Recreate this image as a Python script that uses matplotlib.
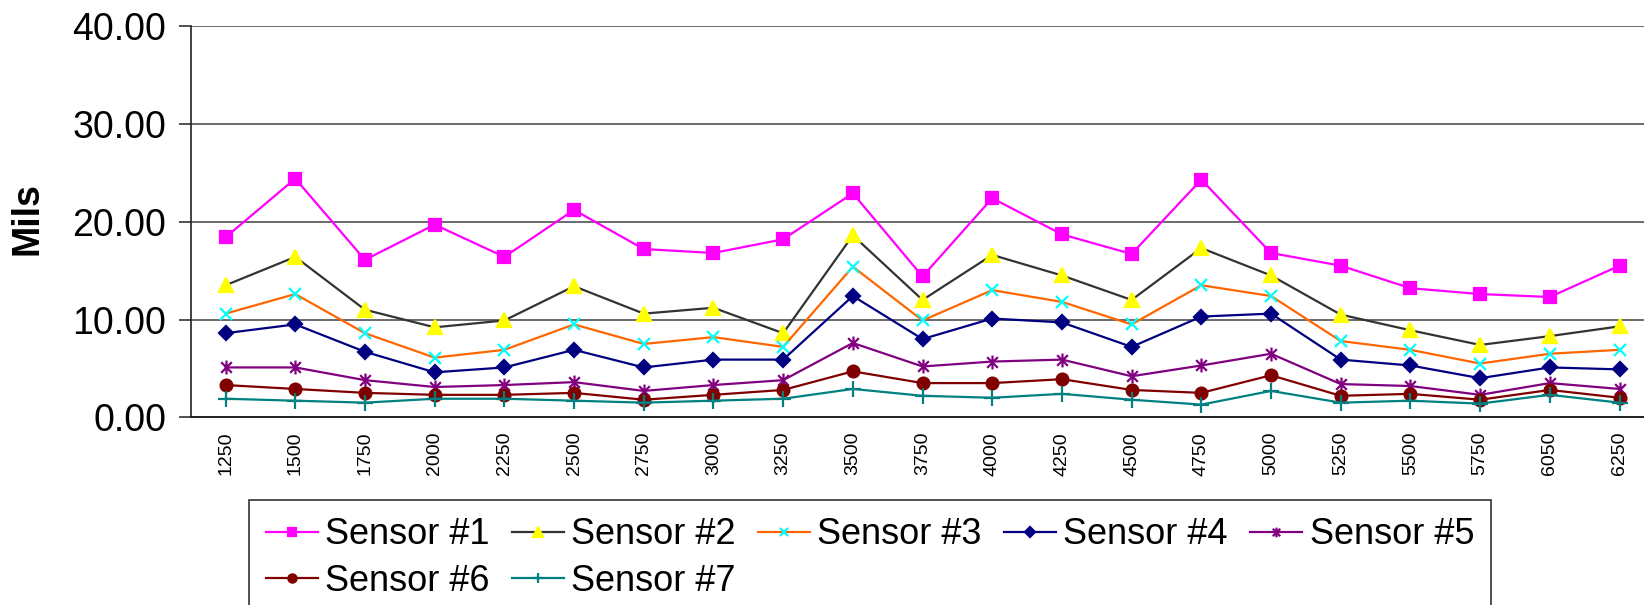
import matplotlib

matplotlib.use("Agg")
import matplotlib.pyplot as plt
import numpy as np
from matplotlib.path import Path

# ----------------------------- Data ------------------------------------------

SPEEDS = ["1250", "1500", "1750", "2000", "2250", "2500", "2750", "3000", "3250", "3500", "3750",
          "4000", "4250", "4500", "4750", "5000", "5250", "5500", "5750", "6050", "6250"]

SENSOR_1 = [18.4, 24.4, 16.1, 19.7, 16.4, 21.2, 17.2, 16.8, 18.2, 22.9, 14.4,
            22.4, 18.7, 16.7, 24.3, 16.8, 15.5, 13.2, 12.6, 12.3, 15.5]
SENSOR_2 = [13.5, 16.4, 11.0, 9.2, 9.9, 13.4, 10.6, 11.2, 8.6, 18.6, 12.0,
            16.6, 14.5, 12.0, 17.3, 14.5, 10.5, 8.9, 7.4, 8.3, 9.3]
SENSOR_3 = [10.6, 12.6, 8.6, 6.1, 6.9, 9.5, 7.5, 8.2, 7.2, 15.4, 9.9,
            13.0, 11.8, 9.5, 13.5, 12.4, 7.8, 6.9, 5.5, 6.5, 6.9]
SENSOR_4 = [8.6, 9.5, 6.7, 4.6, 5.1, 6.9, 5.1, 5.9, 5.9, 12.4, 8.0,
            10.1, 9.7, 7.2, 10.3, 10.6, 5.9, 5.3, 4.0, 5.1, 4.9]
SENSOR_5 = [5.1, 5.1, 3.8, 3.1, 3.3, 3.6, 2.7, 3.3, 3.8, 7.6, 5.2,
            5.7, 5.9, 4.2, 5.3, 6.5, 3.4, 3.2, 2.3, 3.5, 2.9]
SENSOR_6 = [3.3, 2.9, 2.5, 2.3, 2.3, 2.5, 1.8, 2.3, 2.8, 4.7, 3.5,
            3.5, 3.9, 2.8, 2.5, 4.3, 2.2, 2.4, 1.8, 2.8, 2.0]
SENSOR_7 = [1.9, 1.7, 1.5, 1.9, 1.9, 1.7, 1.5, 1.7, 1.9, 2.9, 2.2,
            2.0, 2.4, 1.8, 1.3, 2.7, 1.5, 1.7, 1.4, 2.3, 1.5]

LABELS = ["Sensor #1", "Sensor #2", "Sensor #3", "Sensor #4", "Sensor #5", "Sensor #6", "Sensor #7"]
Y_TICKS = [0, 10, 20, 30, 40]

# ----------------------------- Styling ---------------------------------------

FONT = ["Liberation Sans", "DejaVu Sans"]
LEGEND_COLS = 5

# Excel style asterisk: an "x" with a vertical bar through it
ASTERISK = Path(
    [(-1, -1), (1, 1), (-1, 1), (1, -1), (0, -1.3), (0, 1.3)],
    [Path.MOVETO, Path.LINETO, Path.MOVETO, Path.LINETO, Path.MOVETO, Path.LINETO],
)

# (line colour, marker, marker face, marker edge, marker size)
STYLES = [
    ("#FF00FF", "s", "#FF00FF", "#FF00FF", 9),
    ("#333333", "^", "#FFFF00", "#FFFF00", 10),
    ("#FF6600", "x", "none", "#00FFFF", 9),
    ("#000080", "D", "#000080", "#000080", 7.5),
    ("#800080", ASTERISK, "none", "#800080", 10),
    ("#800000", "o", "#800000", "#800000", 8.5),
    ("#008080", "+", "none", "#008080", 11),
]


def row_major(items, ncol):
    # legend fills column by column; reorder so entries read across the rows
    nrow = -(-len(items) // ncol)
    rows = [items[r * ncol:(r + 1) * ncol] for r in range(nrow)]
    out = []
    for c in range(ncol):
        for row in rows:
            if c < len(row):
                out.append(row[c])
    return out


def plot_sensors(ax, series):
    x = np.arange(len(SPEEDS))
    for values, label, (color, marker, face, edge, size) in zip(series, LABELS, STYLES):
        ax.plot(x, values, color=color, linewidth=1.6, marker=marker, markersize=size,
                markerfacecolor=face, markeredgecolor=edge, markeredgewidth=1.6, label=label)

    ax.set_xlim(-0.5, len(SPEEDS) - 0.5)
    ax.set_ylim(0, 40)
    ax.set_yticks(Y_TICKS)
    ax.set_yticklabels([f"{v:.2f}" for v in Y_TICKS], fontsize=27, family=FONT)
    ax.set_xticks(x)
    ax.set_xticklabels(SPEEDS, rotation=90, fontsize=14, family=FONT)

    ax.tick_params(axis="y", length=8.5, width=1.2, direction="out", pad=9, color="#333333")
    ax.tick_params(axis="x", length=0, pad=10.5)

    ax.grid(axis="y", color="#6a6a6a", linewidth=1.4)
    ax.set_axisbelow(True)
    for side in ("top", "right"):
        ax.spines[side].set_visible(False)
    ax.spines["left"].set_color("#222222")
    ax.spines["left"].set_linewidth(1.2)
    ax.spines["bottom"].set_color("#222222")
    ax.spines["bottom"].set_linewidth(1.4)


def main():
    fig = plt.figure(figsize=(16.44, 6.05), dpi=100)
    ax = fig.add_axes([0.116, 0.3102, 0.8903, 0.6468])

    series = [SENSOR_1, SENSOR_2, SENSOR_3, SENSOR_4, SENSOR_5, SENSOR_6, SENSOR_7]
    plot_sensors(ax, series)

    fig.text(27.5 / 1644, 1 - 219 / 605, "Mils", rotation=90, ha="center", va="center",
             fontsize=27, fontweight="bold", family=FONT)

    handles, labels = ax.get_legend_handles_labels()
    leg = fig.legend(row_major(handles, LEGEND_COLS), row_major(labels, LEGEND_COLS),
                     loc="upper left", bbox_to_anchor=(248.5 / 1644, 1 - 500 / 605),
                     ncol=LEGEND_COLS, prop={"family": FONT, "size": 26}, frameon=True,
                     fancybox=False, edgecolor="black", handlelength=1.44, handletextpad=0.2,
                     columnspacing=0.62, labelspacing=0.32, borderpad=0.48, borderaxespad=0,
                     markerscale=0.7)
    leg.get_frame().set_linewidth(1.2)

    fig.savefig("out.png", dpi=100)


if __name__ == "__main__":
    main()
